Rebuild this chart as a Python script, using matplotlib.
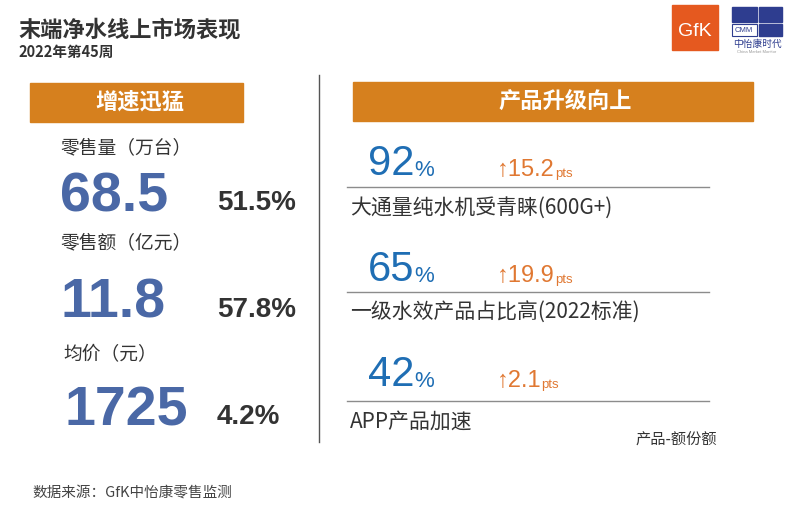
import matplotlib.pyplot as plt
from matplotlib.patches import Rectangle

CJK = ['Noto Sans CJK SC', 'DejaVu Sans']
ARIAL = ['Liberation Sans', 'DejaVu Sans']
plt.rcParams['font.family'] = CJK

title = '末端净水线上市场表现'
subtitle = '2022年第45周'
left_header = '增速迅猛'
right_header = '产品升级向上'

metric_labels = ['零售量（万台）', '零售额（亿元）', '均价（元）']
metric_values = ['68.5', '11.8', '1725']
metric_growth = ['51.5%', '57.8%', '4.2%']

share_values = ['92', '65', '42']
share_delta = ['15.2', '19.9', '2.1']
share_desc = ['大通量纯水机受青睐(600G+)', '一级水效产品占比高(2022标准)', 'APP产品加速']

source = '数据来源：GfK中怡康零售监测'
note = '产品-额份额'

ORANGE = '#D6801E'
DARK = '#333333'
BLUE_L = '#4A68A6'
BLUE_R = '#1F6EB4'
PTS = '#E07832'

fig = plt.figure(figsize=(8, 5.15), dpi=100)
ax = fig.add_axes([0, 0, 1, 1])
ax.set_xlim(0, 800)
ax.set_ylim(515, 0)
ax.axis('off')

# header
ax.text(18, 30, title, fontsize=16, fontweight='bold', color=DARK, va='center')
ax.text(18, 52, subtitle, fontsize=10.5, fontweight='bold', color=DARK, va='center')

# GfK logo
ax.add_patch(Rectangle((672, 5), 46, 45, color='#E5591F'))
ax.text(695, 31, 'GfK', fontsize=14, color='white', ha='center', va='center', family=ARIAL)
# CMM logo
navy = '#2E3D8F'
ax.add_patch(Rectangle((732, 7), 25, 15, color=navy))
ax.add_patch(Rectangle((759, 7), 23, 15, color=navy))
ax.add_patch(Rectangle((759, 24), 23, 12, color=navy))
ax.add_patch(Rectangle((732, 24), 25, 12, fill=False, edgecolor=navy, lw=0.8))
ax.text(744, 31, 'CMM', fontsize=5.5, color=navy, ha='center', va='center', family=ARIAL)
ax.text(757, 44, '中怡康时代', fontsize=7, color=navy, ha='center', va='center')
ax.text(757, 52, 'China Market Monitor', fontsize=3, color='#999999', ha='center', va='center', family=ARIAL)

# divider
ax.plot([319, 319], [75, 442], color='#555555', lw=1)

# left panel
ax.add_patch(Rectangle((30, 83), 213, 39, color=ORANGE))
ax.text(140, 102, left_header, fontsize=16, fontweight='bold', color='white', ha='center', va='center')

label_y = [148, 243, 355]
value_y = [197, 304, 411]
for i in range(3):
    ax.text(60 if i < 2 else 63, label_y[i], metric_labels[i], fontsize=13.5, color=DARK, va='center')
    ax.text(60 if i < 2 else 64, value_y[i], metric_values[i], fontsize=40, fontweight='bold',
            color=BLUE_L, va='center', family=ARIAL)
    ax.text(217, value_y[i] + 6, metric_growth[i], fontsize=20, fontweight='bold',
            color=DARK, va='center', family=ARIAL)

# right panel
ax.add_patch(Rectangle((353, 82), 400, 39, color=ORANGE))
ax.text(565, 101, right_header, fontsize=16, fontweight='bold', color='white', ha='center', va='center')

num_base = [175, 281, 386]
line_y = [187, 292, 401]
desc_y = [208, 313, 422]
for i in range(3):
    t = ax.text(368, num_base[i], share_values[i], fontsize=30, color=BLUE_R,
                va='baseline', family=ARIAL)
    ax.annotate('%', xy=(1, 0), xycoords=t, xytext=(0, 2), textcoords='offset points',
                fontsize=16, color=BLUE_R, va='bottom', family=ARIAL)
    a = ax.text(497, num_base[i] + 1, '↑' + share_delta[i], fontsize=17, color=PTS,
                va='baseline', family=ARIAL)
    ax.annotate('pts', xy=(1, 0), xycoords=a, xytext=(0, 0.5), textcoords='offset points',
                fontsize=9.5, color=PTS, va='bottom', family=ARIAL)
    ax.plot([347, 709], [line_y[i], line_y[i]], color='#8C8C8C', lw=1)
    ax.text(350, desc_y[i], share_desc[i], fontsize=15, color=DARK, va='center')

ax.text(717, 440, note, fontsize=11, color=DARK, ha='right', va='center')
ax.text(32, 493, source, fontsize=10.5, color='#444444', va='center')

fig.savefig('out.png', dpi=100)
